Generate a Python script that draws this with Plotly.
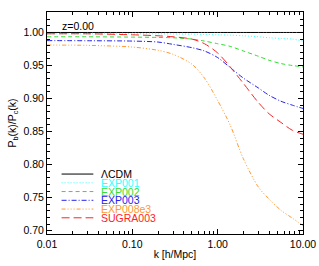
import plotly.graph_objects as go

k = [0.01, 0.03, 0.1, 0.2, 0.3, 0.5, 0.7, 1.0, 1.4, 2.0, 3.0, 4.0, 5.5, 7.5, 10.0]
lcdm = [1.0] * len(k)
exp001 = [0.998, 0.998, 0.998, 0.998, 0.9978, 0.9975, 0.997, 0.9965, 0.996, 0.995, 0.9935, 0.992, 0.991, 0.990, 0.987]
exp002 = [0.9935, 0.9935, 0.993, 0.9925, 0.992, 0.990, 0.987, 0.983, 0.979, 0.972, 0.964, 0.958, 0.953, 0.950, 0.948]
exp003 = [0.9877, 0.9875, 0.987, 0.9855, 0.982, 0.977, 0.972, 0.962, 0.947, 0.931, 0.916, 0.905, 0.896, 0.890, 0.885]
exp008e3 = [0.981, 0.9805, 0.978, 0.973, 0.967, 0.952, 0.931, 0.897, 0.860, 0.809, 0.766, 0.748, 0.731, 0.719, 0.708]
sugra003 = [0.998, 0.998, 0.9965, 0.995, 0.9935, 0.990, 0.983, 0.969, 0.948, 0.923, 0.894, 0.877, 0.864, 0.852, 0.846]

names = ["ΛCDM", "EXP001", "EXP002", "EXP003", "EXP008e3", "SUGRA003"]
series = [lcdm, exp001, exp002, exp003, exp008e3, sugra003]
colors = ["#000000", "#33ffff", "#33dd33", "#2222ee", "#ff9933", "#ff2222"]
dashes = ["solid", "1px,2px", "4px,3px", "5px,2px,1px,2px", "4px,2px,1px,2px,1px,2px,1px,2px", "8px,4px"]

xtickvals = [0.01, 0.1, 1.0, 10.0]
xticktext = ["0.01", "0.10", "1.00", "10.00"]
yticks = [0.70, 0.75, 0.80, 0.85, 0.90, 0.95, 1.00]

FONT = "Liberation Sans, Arial, sans-serif"

fig = go.Figure()
order = [1, 2, 3, 4, 5, 0]
for i in order:
    fig.add_trace(go.Scatter(
        x=k, y=series[i], mode="lines", name=names[i], showlegend=False,
        line=dict(color=colors[i], width=1, dash=dashes[i], shape="spline", smoothing=0.8),
    ))

# compact legend drawn in the lower-left of the plot
lx0, lx1, tx = 0.057, 0.181, 0.207
ly0, dy = 0.270, 0.0394
for j, nm in enumerate(names):
    yy = ly0 - j * dy
    fig.add_shape(type="line", xref="paper", yref="paper", x0=lx0, x1=lx1, y0=yy, y1=yy,
                  line=dict(color=colors[j], width=1, dash=dashes[j]))
    fig.add_annotation(xref="paper", yref="paper", x=tx, y=yy, text=nm, showarrow=False,
                       xanchor="left", yanchor="middle", borderpad=0,
                       font=dict(family=FONT, size=10.5, color=colors[j]))

fig.add_annotation(xref="paper", yref="paper", x=0.055, y=(234 - 26) / 222, text="z=0.00",
                   showarrow=False, xanchor="left", yanchor="middle", borderpad=0,
                   font=dict(family=FONT, size=10.5, color="black"))

fig.update_layout(
    width=319, height=266,
    margin=dict(l=47, r=16, t=12, b=32, autoexpand=False),
    paper_bgcolor="white", plot_bgcolor="white",
    font=dict(family=FONT, size=10.5, color="black"),
    showlegend=False,
)
fig.update_xaxes(
    type="log", range=[-2, 1], tickvals=xtickvals, ticktext=xticktext, automargin=False,
    ticks="inside", ticklen=5, tickcolor="black", showline=True, linecolor="black", linewidth=1,
    mirror="allticks", showgrid=False, zeroline=False,
    minor=dict(ticks="inside", ticklen=3, tickcolor="black", dtick="D1", showgrid=False),
    title=dict(text="k [h/Mpc]", standoff=2, font=dict(size=10.5)),
    tickfont=dict(size=10.5),
)
fig.update_yaxes(
    range=[0.695, 1.031], tickvals=yticks, tickformat=".2f", automargin=False,
    ticks="inside", ticklen=5, tickcolor="black", showline=True, linecolor="black", linewidth=1,
    mirror="allticks", showgrid=False, zeroline=False,
    minor=dict(ticks="inside", ticklen=3, tickcolor="black", dtick=0.01, tick0=0.70, showgrid=False),
    title=dict(text="P<sub>b</sub>(k)/P<sub>c</sub>(k)", standoff=4, font=dict(size=10.5)),
    tickfont=dict(size=10.5),
)

fig.write_html("out.html", config={"displayModeBar": False},
               post_script="document.body.style.margin='0px';document.body.style.overflow='hidden';")
